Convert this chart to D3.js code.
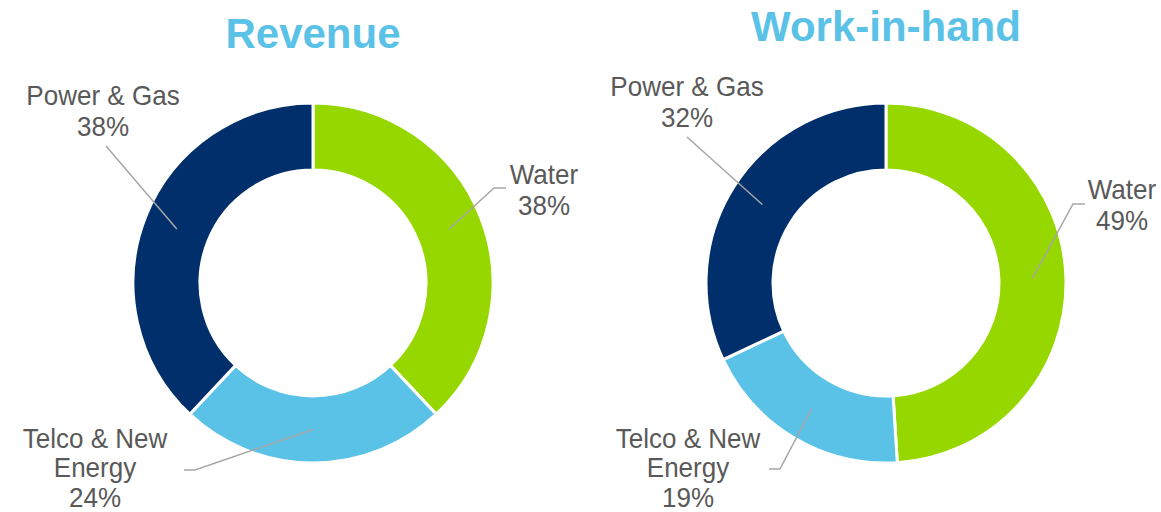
<!DOCTYPE html>
<html>
<head>
<meta charset="utf-8">
<script src="https://cdn.jsdelivr.net/npm/d3@7"></script>
<style>
  html, body { margin: 0; padding: 0; background: #ffffff; }
  svg { display: block; }
</style>
</head>
<body>
<svg id="chart" width="1161" height="512"></svg>
<script>
// Business segments, in clockwise order from 12 o'clock
const segments = ["Water", "Telco & New Energy", "Power & Gas"];
const segmentLines = [["Water"], ["Telco & New", "Energy"], ["Power & Gas"]];
const revenueShare = [38, 24, 38];
const workInHandShare = [49, 19, 32];
const chartTitles = ["Revenue", "Work-in-hand"];
const segmentColors = ["#97D700", "#5BC2E7", "#002F6C"];

// Label placement relative to each donut centre: text anchor and leader path
const revenueLabelLayout = [
  { text: [231, -99], path: [[181, -95], [193, -95]] },
  { text: [-218, 165], path: [[-118, 187], [-129, 187]] },
  { text: [-210, -178], path: [[-207, -137]] }
];
const workLabelLayout = [
  { text: [236, -84], path: [[187, -79], [199, -79]] },
  { text: [-198, 165], path: [[-106, 186], [-117, 186]] },
  { text: [-199, -187], path: [[-199, -146]] }
];

const charts = [
  { title: chartTitles[0], values: revenueShare, layout: revenueLabelLayout, cx: 313, cy: 283, titleY: 48 },
  { title: chartTitles[1], values: workInHandShare, layout: workLabelLayout, cx: 886, cy: 283, titleY: 41 }
];

const svg = d3.select("#chart");
const outerR = 180, innerR = 113;
const lineHeight = 29.5;

const color = d3.scaleOrdinal().domain(segments).range(segmentColors);
const pie = d3.pie().sort(null).value(d => d.value);
const arc = d3.arc().innerRadius(innerR).outerRadius(outerR);

charts.forEach(chart => {
  const data = segments.map((s, i) => ({ name: s, lines: segmentLines[i], value: chart.values[i], layout: chart.layout[i] }));
  const arcs = pie(data);

  const g = svg.append("g").attr("transform", `translate(${chart.cx},${chart.cy})`);

  g.selectAll("path.slice")
    .data(arcs)
    .join("path")
    .attr("class", "slice")
    .attr("d", arc)
    .attr("fill", d => color(d.data.name))
    .attr("stroke", "#ffffff")
    .attr("stroke-width", 3)
    .attr("stroke-linejoin", "miter");

  // leader lines from each slice centroid to its label
  g.selectAll("path.leader")
    .data(arcs)
    .join("path")
    .attr("class", "leader")
    .attr("d", d => d3.line()([arc.centroid(d), ...d.data.layout.path]))
    .attr("fill", "none")
    .attr("stroke", "#A6A6A6")
    .attr("stroke-width", 1.5);

  const labels = g.selectAll("g.label")
    .data(arcs)
    .join("g")
    .attr("class", "label")
    .attr("transform", d => `translate(${d.data.layout.text[0]},${d.data.layout.text[1]}) scale(0.93,1)`);

  labels.each(function (d) {
    const rows = [...d.data.lines, `${d.data.value}%`];
    d3.select(this).selectAll("text")
      .data(rows)
      .join("text")
      .attr("x", 0)
      .attr("y", (r, i) => i * (d.data.lines.length > 1 ? lineHeight : 31))
      .attr("text-anchor", "middle")
      .attr("font-family", "'Liberation Sans', Arial, Helvetica, sans-serif")
      .attr("font-size", 28)
      .attr("fill", "#595959")
      .text(r => r);
  });

  svg.append("text")
    .attr("x", chart.cx)
    .attr("y", chart.titleY)
    .attr("text-anchor", "middle")
    .attr("font-family", "'Liberation Sans', Arial, Helvetica, sans-serif")
    .attr("font-weight", "bold")
    .attr("font-size", 42)
    .attr("fill", "#5BC2E7")
    .text(chart.title);
});
</script>
</body>
</html>
